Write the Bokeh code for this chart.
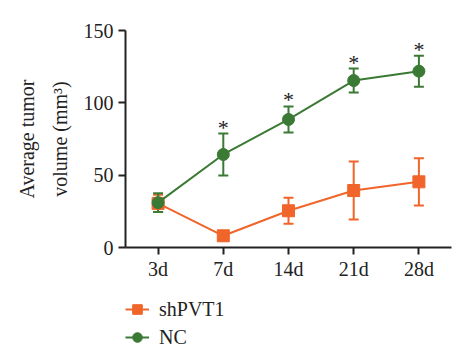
from bokeh.plotting import figure
from bokeh.layouts import column
from bokeh.models import (ColumnDataSource, Whisker, TeeHead, FixedTicker, Legend,
                          LegendItem, Title, Range1d)
from bokeh.core.properties import value
from bokeh.embed import file_html
from bokeh.resources import INLINE

days = ["3d", "7d", "14d", "21d", "28d"]
nc_mean = [31, 64.3, 88.5, 115.4, 121.9]
nc_err = [6.5, 14.5, 9, 8.3, 10.7]
sh_mean = [30.5, 8.1, 25.4, 39.4, 45.4]
sh_err = [6, 0, 9, 20, 16.3]
star_flags = [False, True, True, True, True]
series_names = ["shPVT1", "NC"]

GREEN = "#3b7a34"
ORANGE = "#f1652b"
FONT = "Liberation Serif"
INK = "#222222"

xs = list(range(len(days)))

p = figure(frame_width=326, frame_height=217, output_backend="svg",
           toolbar_location=None, x_range=Range1d(-0.5, 4.5), y_range=Range1d(0, 150),
           min_border_left=125, min_border_top=30, min_border_right=23, min_border_bottom=40)
p.outline_line_color = None
p.grid.visible = False
p.background_fill_color = "white"

for ax in (p.xaxis[0], p.yaxis[0]):
    ax.axis_line_width = 2
    ax.axis_line_color = INK
    ax.major_tick_line_width = 2
    ax.major_tick_line_color = INK
    ax.major_tick_in = 0
    ax.major_tick_out = 7
    ax.minor_tick_line_color = None
    ax.major_label_text_font = FONT
    ax.major_label_text_font_size = "20px"
    ax.major_label_text_color = INK

p.xaxis.ticker = FixedTicker(ticks=xs)
p.xaxis.major_label_overrides = {i: d for i, d in enumerate(days)}
p.xaxis.major_label_standoff = 3
p.yaxis.ticker = FixedTicker(ticks=[0, 50, 100, 150])
p.yaxis.major_label_standoff = 5
p.yaxis.axis_label = "volume (mm³)"
p.yaxis.axis_label_text_font = FONT
p.yaxis.axis_label_text_font_size = "20px"
p.yaxis.axis_label_text_font_style = "normal"
p.yaxis.axis_label_text_color = INK
p.yaxis.axis_label_standoff = 10

p.add_layout(Title(text="Average tumor", text_font=FONT, text_font_size="20px",
                   text_font_style="normal", text_color=INK, align="center",
                   standoff=15), "left")

sh_src = ColumnDataSource(dict(x=xs, y=sh_mean,
                               lo=[m - e for m, e in zip(sh_mean, sh_err)],
                               hi=[m + e for m, e in zip(sh_mean, sh_err)]))
nc_src = ColumnDataSource(dict(x=xs, y=nc_mean,
                               lo=[m - e for m, e in zip(nc_mean, nc_err)],
                               hi=[m + e for m, e in zip(nc_mean, nc_err)]))

for src, col in ((sh_src, ORANGE), (nc_src, GREEN)):
    w = Whisker(source=src, base="x", lower="lo", upper="hi", line_color=col, line_width=2,
                upper_head=TeeHead(size=10, line_color=col, line_width=2),
                lower_head=TeeHead(size=10, line_color=col, line_width=2))
    p.add_layout(w)

p.line("x", "y", source=sh_src, line_color=ORANGE, line_width=2)
p.scatter("x", "y", source=sh_src, marker="square", size=12,
          fill_color=ORANGE, line_color=ORANGE)
p.line("x", "y", source=nc_src, line_color=GREEN, line_width=2)
p.scatter("x", "y", source=nc_src, marker="circle", size=12,
          fill_color=GREEN, line_color=GREEN)

star_x = [x for x, f in zip(xs, star_flags) if f]
star_y = [m + e for m, e, f in zip(nc_mean, nc_err, star_flags) if f]
p.text(x=star_x, y=star_y, text=["*"] * len(star_x), text_align="center",
       text_baseline="bottom", y_offset=6, text_font=value(FONT),
       text_font_size="22px", text_color=INK)

# legend panel: a second figure under the chart, sharing the data sources,
# with ranges chosen so that its own glyphs stay out of view
lg = figure(width=474, height=77, output_backend="svg", toolbar_location=None,
            x_range=Range1d(1000, 1001), y_range=Range1d(1000, 1001), min_border=0,
            min_border_left=125, min_border_right=23, min_border_top=10,
            x_axis_location=None, y_axis_location=None)
lg.grid.visible = False
lg.outline_line_color = None
l1 = lg.line("x", "y", source=sh_src, line_color=ORANGE, line_width=2)
m1 = lg.scatter("x", "y", source=sh_src, marker="square", size=12,
                fill_color=ORANGE, line_color=ORANGE)
l2 = lg.line("x", "y", source=nc_src, line_color=GREEN, line_width=2)
m2 = lg.scatter("x", "y", source=nc_src, marker="circle", size=12,
                fill_color=GREEN, line_color=GREEN)

legend = Legend(items=[LegendItem(label=series_names[0], renderers=[l1, m1]),
                       LegendItem(label=series_names[1], renderers=[l2, m2])],
                location="top_left", orientation="vertical")
legend.label_text_font = FONT
legend.label_text_font_size = "20px"
legend.label_text_color = INK
legend.glyph_width = 24
legend.glyph_height = 24
legend.label_standoff = 10
legend.spacing = 4
legend.padding = 0
legend.margin = 0
legend.border_line_color = None
legend.background_fill_alpha = 0
lg.add_layout(legend)

layout = column(p, lg, spacing=0)
html = file_html(layout, INLINE)
open("out.html", "w").write(html)
